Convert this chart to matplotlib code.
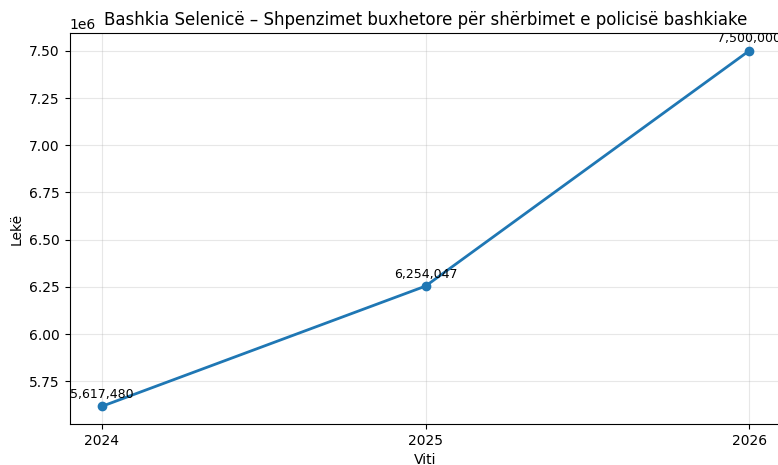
import matplotlib.pyplot as plt

years = [2024, 2025, 2026]
spending = [5617480, 6254047, 7500000]
title = "Bashkia Selenicë – Shpenzimet buxhetore për shërbimet e policisë bashkiake"


def main():
    fig = plt.figure(figsize=(7.78, 4.65), dpi=100)
    ax = fig.add_axes([0.0895, 0.088, 0.915, 0.841])

    ax.plot(years, spending, marker="o", linewidth=2, markersize=6, color="#1f77b4")
    for x, y in zip(years, spending):
        ax.annotate(
            f"{y:,}",
            (x, y),
            textcoords="offset points",
            xytext=(0, 6),
            ha="center",
            fontsize=9,
        )

    ax.set_xticks(years)
    ax.set_xticklabels([str(y) for y in years])
    ax.set_xlabel("Viti")
    ax.set_ylabel("Lekë")
    ax.set_title(title, fontsize=12)
    ax.grid(True, alpha=0.3)

    fig.savefig("out.png", dpi=100)
    plt.close(fig)


if __name__ == "__main__":
    main()
